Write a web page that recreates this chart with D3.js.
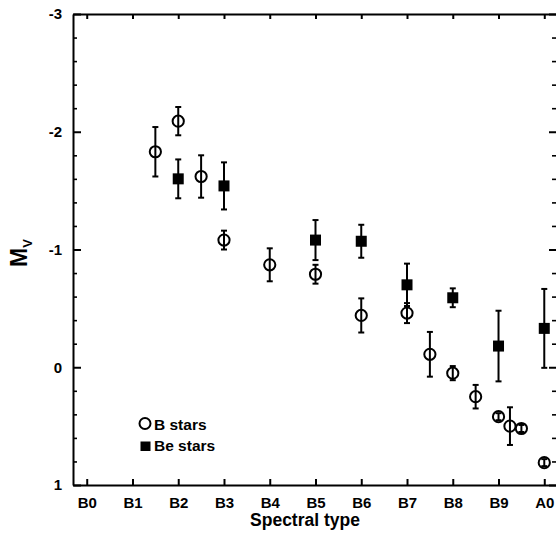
<!DOCTYPE html>
<html>
<head>
<meta charset="utf-8">
<script src="https://cdn.jsdelivr.net/npm/d3@7"></script>
<style>
  body { margin: 0; background: #fff; }
  svg text { font-family: "Liberation Sans", Arial, sans-serif; font-weight: bold; fill: #000; }
  .axis path, .axis line { stroke: #000; stroke-width: 2; }
  .minor line { stroke-width: 1.6; }
</style>
</head>
<body>
<div id="container"></div>
<script>
// spectral type as number: B0 = 0 ... B9 = 9, A0 = 10
var xLabels = ["B0", "B1", "B2", "B3", "B4", "B5", "B6", "B7", "B8", "B9", "A0"];
var yTicks = [-3, -2, -1, 0, 1];

// B stars (open circles)
var bType = [1.5, 2, 2.5, 3, 4, 5, 6, 7, 7.5, 8, 8.5, 9, 9.25, 9.5, 10];
var bMv = [-1.83, -2.09, -1.62, -1.08, -0.87, -0.79, -0.44, -0.46, -0.11, 0.05, 0.25, 0.42, 0.50, 0.52, 0.81];
var bErr = [0.21, 0.12, 0.18, 0.08, 0.14, 0.08, 0.145, 0.085, 0.19, 0.06, 0.10, 0.03, 0.16, 0.03, 0.03];

// Be stars (filled squares)
var beType = [2, 3, 5, 6, 7, 8, 9, 10];
var beMv = [-1.60, -1.54, -1.08, -1.07, -0.70, -0.59, -0.18, -0.33];
var beErr = [0.165, 0.20, 0.17, 0.14, 0.18, 0.08, 0.30, 0.335];

const W = 556, H = 536;
const M = { left: 73, right: 558, top: 14, bottom: 485 };

var drawChart = function () {
    var svg = d3.select("#container").append("svg")
        .attr("width", W)
        .attr("height", H);

    var x = d3.scaleLinear().domain([-0.3, 10.3]).range([M.left, M.right]);
    var y = d3.scaleLinear().domain([-3, 1]).range([M.top, M.bottom]);

    var minorY = d3.range(-3, 1.001, 0.2).map(function (d) { return +d.toFixed(1); })
        .filter(function (d) { return yTicks.indexOf(d) < 0; });
    var xTicks = d3.range(0, 11);

    // left axis
    svg.append("g").attr("class", "axis minor")
        .attr("transform", "translate(" + M.left + ",0)")
        .call(d3.axisLeft(y).tickValues(minorY).tickSize(-4).tickFormat(""))
        .select(".domain").remove();
    svg.append("g").attr("class", "axis")
        .attr("transform", "translate(" + M.left + ",0)")
        .call(d3.axisLeft(y).tickValues(yTicks).tickSizeInner(-8).tickSizeOuter(0)
            .tickPadding(11).tickFormat(function (d) { return String(d); }))
        .selectAll("text").style("font-size", "15px");

    // right axis
    svg.append("g").attr("class", "axis minor")
        .attr("transform", "translate(" + M.right + ",0)")
        .call(d3.axisRight(y).tickValues(minorY).tickSize(-6).tickFormat(""))
        .select(".domain").remove();
    svg.append("g").attr("class", "axis")
        .attr("transform", "translate(" + M.right + ",0)")
        .call(d3.axisRight(y).tickValues(yTicks).tickSizeInner(-9).tickSizeOuter(0).tickFormat(""));

    // bottom axis
    svg.append("g").attr("class", "axis")
        .attr("transform", "translate(0," + M.bottom + ")")
        .call(d3.axisBottom(x).tickValues(xTicks).tickSizeInner(-6).tickSizeOuter(0)
            .tickPadding(12).tickFormat(function (d) { return xLabels[d]; }))
        .selectAll("text").style("font-size", "15px");

    // top axis
    svg.append("g").attr("class", "axis")
        .attr("transform", "translate(0," + M.top + ")")
        .call(d3.axisTop(x).tickValues(xTicks).tickSizeInner(-5).tickSizeOuter(0).tickFormat(""));

    // axis titles
    svg.append("text")
        .attr("x", 305).attr("y", 526)
        .attr("text-anchor", "middle")
        .style("font-size", "17.5px")
        .text("Spectral type");

    var yl = svg.append("text")
        .attr("transform", "translate(27,253) rotate(-90)")
        .attr("text-anchor", "middle")
        .style("font-size", "23px");
    yl.append("tspan").text("M");
    yl.append("tspan").attr("dy", 5).style("font-size", "13px").text("V");

    var bStars = bType.map(function (t, i) { return { t: t, m: bMv[i], e: bErr[i] }; });
    var beStars = beType.map(function (t, i) { return { t: t, m: beMv[i], e: beErr[i] }; });

    var drawErrors = function (data) {
        var g = svg.append("g").attr("stroke", "#000").attr("stroke-width", 2);
        g.selectAll(".bar").data(data).enter().append("line")
            .attr("x1", function (d) { return x(d.t); })
            .attr("x2", function (d) { return x(d.t); })
            .attr("y1", function (d) { return y(d.m - d.e); })
            .attr("y2", function (d) { return y(d.m + d.e); });
        [-1, 1].forEach(function (s) {
            g.selectAll(".cap" + s).data(data).enter().append("line")
                .attr("x1", function (d) { return x(d.t) - 3; })
                .attr("x2", function (d) { return x(d.t) + 3; })
                .attr("y1", function (d) { return y(d.m + s * d.e); })
                .attr("y2", function (d) { return y(d.m + s * d.e); });
        });
    };

    svg.append("g").selectAll("rect").data(beStars).enter().append("rect")
        .attr("x", function (d) { return x(d.t) - 5.5; })
        .attr("y", function (d) { return y(d.m) - 5.5; })
        .attr("width", 11).attr("height", 11)
        .attr("fill", "#000");
    drawErrors(beStars);

    svg.append("g").selectAll("circle").data(bStars).enter().append("circle")
        .attr("cx", function (d) { return x(d.t); })
        .attr("cy", function (d) { return y(d.m); })
        .attr("r", 5.6)
        .attr("fill", "none")
        .attr("stroke", "#000")
        .attr("stroke-width", 2);
    drawErrors(bStars);

    // legend
    var lg = svg.append("g");
    lg.append("circle").attr("cx", 145).attr("cy", 423.5).attr("r", 5.5)
        .attr("fill", "none").attr("stroke", "#000").attr("stroke-width", 2);
    lg.append("rect").attr("x", 140.5).attr("y", 441.5).attr("width", 10).attr("height", 9.5)
        .attr("fill", "#000");
    lg.append("text").attr("x", 154).attr("y", 430).style("font-size", "15.5px").text("B stars");
    lg.append("text").attr("x", 154).attr("y", 451).style("font-size", "15.5px").text("Be stars");
};

window.onload = drawChart;
</script>
</body>
</html>
